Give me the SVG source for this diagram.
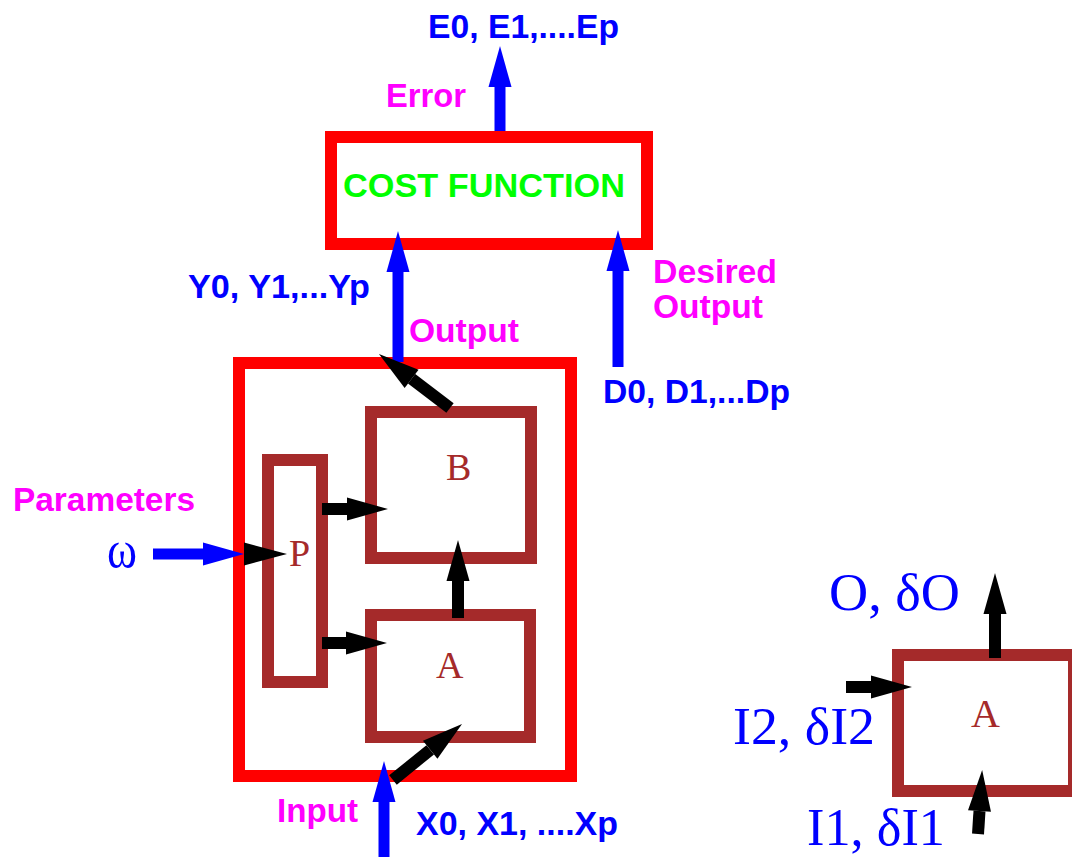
<svg xmlns="http://www.w3.org/2000/svg" width="1072" height="857" viewBox="0 0 1072 857">
<defs>
<style>
.red{fill:none;stroke:#ff0000;stroke-width:12}
.brown{fill:none;stroke:#a52a2a;stroke-width:12}
.sans{font-family:"Liberation Sans",Arial,sans-serif;font-weight:bold;font-size:33px}
.serif{font-family:"Liberation Serif","Times New Roman",serif}
.blue{fill:#0000ff}
.mag{fill:#ff00ff}
.br{fill:#a52a2a}
.bl{stroke:#0000ff;stroke-width:11;fill:none}
.bk{stroke:#000000;stroke-width:12;fill:none}
</style>
<marker id="hb" markerUnits="userSpaceOnUse" markerWidth="42" markerHeight="24" refX="0" refY="11.5" orient="auto" overflow="visible">
<path d="M0,0 L41,11.5 L0,23 z" fill="#0000ff"/>
</marker>
<marker id="hk" markerUnits="userSpaceOnUse" markerWidth="42" markerHeight="24" refX="0" refY="11.5" orient="auto" overflow="visible">
<path d="M0,0 L41,11.5 L0,23 z" fill="#000000"/>
</marker>
</defs>
<rect width="1072" height="857" fill="#ffffff"/>

<g id="cost">
<rect class="red" x="331" y="137" width="316" height="107"/>
<text class="sans" x="343" y="197" font-size="34" textLength="282" lengthAdjust="spacingAndGlyphs" fill="#00ff00">COST FUNCTION</text>
</g>

<g id="network">
<rect class="red" x="239" y="363" width="332" height="413"/>
</g>

<g id="nodeB">
<rect class="brown" x="371" y="412" width="160" height="146"/>
<text class="serif br" x="446" y="480" font-size="38">B</text>
</g>

<g id="nodeA">
<rect class="brown" x="371" y="615" width="159" height="122"/>
<text class="serif br" x="436" y="678" font-size="38">A</text>
</g>

<g id="nodeP">
<rect class="brown" x="268" y="460" width="54" height="222"/>
<text class="serif br" x="289" y="566" font-size="38">P</text>
</g>

<g id="nodeA2">
<rect class="brown" x="898" y="655" width="176" height="136"/>
<text class="serif br" x="971" y="727" font-size="40">A</text>
</g>

<g id="connectors">
<line class="bl" x1="500" y1="131" x2="500" y2="87" marker-end="url(#hb)"/>
<line class="bl" x1="398" y1="362" x2="398" y2="272" marker-end="url(#hb)"/>
<line class="bl" x1="618" y1="367" x2="618" y2="271" marker-end="url(#hb)"/>
<line class="bl" x1="153" y1="554" x2="203" y2="554" marker-end="url(#hb)"/>
<line class="bl" x1="384" y1="857" x2="384" y2="802" marker-end="url(#hb)"/>
<path d="M244,542.5 L287,554 L244,565.5 z" fill="#000000"/>
<line class="bk" x1="322" y1="509" x2="347" y2="509" marker-end="url(#hk)"/>
<line class="bk" x1="322" y1="643" x2="346" y2="643" marker-end="url(#hk)"/>
<line class="bk" x1="458" y1="618" x2="458" y2="581" marker-end="url(#hk)"/>
<line class="bk" x1="450" y1="408" x2="411.6" y2="378.8" marker-end="url(#hk)"/>
<line class="bk" x1="393" y1="780" x2="430.2" y2="749.8" marker-end="url(#hk)"/>
<line class="bk" x1="995" y1="658" x2="995" y2="614" marker-end="url(#hk)"/>
<line class="bk" x1="846" y1="687" x2="871" y2="687" marker-end="url(#hk)"/>
<line class="bk" x1="978" y1="834" x2="979.5" y2="811" marker-end="url(#hk)"/>
</g>

<g id="labels">
<text class="sans blue" x="428" y="38" font-size="28" textLength="191" lengthAdjust="spacingAndGlyphs">E0, E1,....Ep</text>
<text class="sans mag" x="386" y="107" textLength="80" lengthAdjust="spacingAndGlyphs">Error</text>
<text class="sans blue" x="188" y="298" textLength="182" lengthAdjust="spacingAndGlyphs">Y0, Y1,...Yp</text>
<text class="sans mag" x="409" y="342" textLength="110" lengthAdjust="spacingAndGlyphs">Output</text>
<text class="sans mag" x="653" y="283" textLength="124" lengthAdjust="spacingAndGlyphs">Desired</text>
<text class="sans mag" x="653" y="318" textLength="110" lengthAdjust="spacingAndGlyphs">Output</text>
<text class="sans blue" x="603" y="403" textLength="187" lengthAdjust="spacingAndGlyphs">D0, D1,...Dp</text>
<text class="sans mag" x="13" y="511" textLength="182" lengthAdjust="spacingAndGlyphs">Parameters</text>
<text class="serif blue" x="107" y="567" font-size="52" textLength="30" lengthAdjust="spacingAndGlyphs">ω</text>
<text class="sans mag" x="277" y="822" textLength="81" lengthAdjust="spacingAndGlyphs">Input</text>
<text class="sans blue" x="416" y="835" textLength="202" lengthAdjust="spacingAndGlyphs">X0, X1, ....Xp</text>
<text class="serif blue" x="829" y="610" font-size="53" textLength="131" lengthAdjust="spacingAndGlyphs">O, δO</text>
<text class="serif blue" x="733" y="744" font-size="53" textLength="142" lengthAdjust="spacingAndGlyphs">I2, δI2</text>
<text class="serif blue" x="807" y="845" font-size="53" textLength="138" lengthAdjust="spacingAndGlyphs">I1, δI1</text>
</g>
</svg>
